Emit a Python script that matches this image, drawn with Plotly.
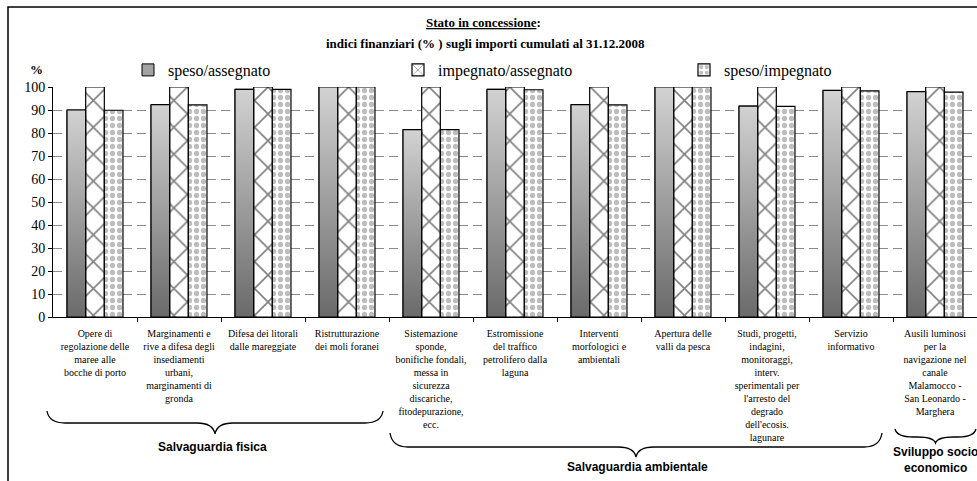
import plotly.graph_objects as go

# ---------------- data ----------------
categories = [
    "Opere di<br>regolazione delle<br>maree alle<br>bocche di porto",
    "Marginamenti e<br>rive a difesa degli<br>insediamenti<br>urbani,<br>marginamenti di<br>gronda",
    "Difesa dei litorali<br>dalle mareggiate",
    "Ristrutturazione<br>dei moli foranei",
    "Sistemazione<br>sponde,<br>bonifiche fondali,<br>messa in<br>sicurezza<br>discariche,<br>fitodepurazione,<br>ecc.",
    "Estromissione<br>del traffico<br>petrolifero dalla<br>laguna",
    "Interventi<br>morfologici e<br>ambientali",
    "Apertura delle<br>valli da pesca",
    "Studi, progetti,<br>indagini,<br>monitoraggi,<br>interv.<br>sperimentali per<br>l'arresto del<br>degrado<br>dell'ecosis.<br>lagunare",
    "Servizio<br>informativo",
    "Ausili luminosi<br>per la<br>navigazione nel<br>canale<br>Malamocco -<br>San Leonardo -<br>Marghera",
]
speso_assegnato = [90.0, 92.3, 99.0, 100.0, 81.5, 99.0, 92.3, 100.0, 91.7, 98.5, 98.0]
impegnato_assegnato = [100, 100, 100, 100, 100, 100, 100, 100, 100, 100, 100]
speso_impegnato = [89.9, 92.2, 99.0, 100.0, 81.5, 98.8, 92.2, 100.0, 91.6, 98.3, 97.8]
series_names = ["speso/assegnato", "impegnato/assegnato", "speso/impegnato"]
y_ticks = [0, 10, 20, 30, 40, 50, 60, 70, 80, 90, 100]
groups = ["Salvaguardia fisica", "Salvaguardia ambientale", "Sviluppo socio<br>economico"]

# ---------------- layout geometry ----------------
W, H = 977, 481
PL, PR, PT, PB = 53, 977, 87, 317


def px2x(px):
    return (px - PL) / (PR - PL)


def py2y(py):
    return (PB - py) / (PB - PT)


SERIF = "Liberation Serif, Times New Roman, serif"
SANS = "Liberation Sans, Arial, sans-serif"

xs = list(range(len(categories)))
bw = 0.222
offsets = [-0.333, -0.111, 0.111]

fig = go.Figure()

fig.add_trace(go.Bar(
    x=xs, y=speso_assegnato, name=series_names[0], width=bw, offset=offsets[0],
    marker=dict(color="#a3a3a3", line=dict(color="black", width=1)),
    legend="legend",
))
fig.add_trace(go.Bar(
    x=xs, y=impegnato_assegnato, name=series_names[1], width=bw, offset=offsets[1],
    marker=dict(color="white", line=dict(color="black", width=1.2),
                pattern=dict(shape="x", fgcolor="black", bgcolor="white", size=19, solidity=0.16)),
    legend="legend2",
))
fig.add_trace(go.Bar(
    x=xs, y=speso_impegnato, name=series_names[2], width=bw, offset=offsets[2],
    marker=dict(color="white", line=dict(color="black", width=1.2),
                pattern=dict(shape=".", fgcolor="#7c7c7c", bgcolor="white", size=7, solidity=0.45)),
    legend="legend3",
))

# gradient overlay for the first series (one polygon per bar, built from the data)
for i, v in zip(xs, speso_assegnato):
    x0 = i + offsets[0]
    x1 = x0 + bw
    fig.add_trace(go.Scatter(
        x=[x0, x0, x1, x1, x0], y=[0, v, v, 0, 0], mode="lines", fill="toself",
        line=dict(color="black", width=1.2),
        fillgradient=dict(type="vertical", colorscale=[[0, "#6a6a6a"], [1, "#d2d2d2"]]),
        showlegend=False, hoverinfo="skip",
    ))

shapes = []
# outer frame
shapes.append(dict(type="rect", xref="paper", yref="paper",
                   x0=px2x(8), x1=px2x(1010), y0=py2y(700), y1=py2y(7),
                   line=dict(color="black", width=1.5), fillcolor="rgba(0,0,0,0)"))


def brace(x0, x1, yend, ybody, ytip, r=18):
    xm = (x0 + x1) / 2
    pts = lambda x, y: f"{px2x(x):.5f},{py2y(y):.5f}"
    return (f"M {pts(x0, yend)} Q {pts(x0 + 2, ybody)} {pts(x0 + r, ybody)} "
            f"L {pts(xm - r, ybody)} Q {pts(xm - 2, ybody)} {pts(xm, ytip)} "
            f"Q {pts(xm + 2, ybody)} {pts(xm + r, ybody)} "
            f"L {pts(x1 - r, ybody)} Q {pts(x1 - 2, ybody)} {pts(x1, yend)}")


for (a, b, ye, yb, yt) in [(47, 383, 411, 423, 434), (390, 882, 433, 447, 457), (895, 976, 429, 437, 443)]:
    shapes.append(dict(type="path", xref="paper", yref="paper", path=brace(a, b, ye, yb, yt),
                       line=dict(color="black", width=1.3)))

annotations = [
    dict(text="<b><u>Stato in concessione</u>:</b>", x=px2x(483), y=py2y(22)),
    dict(text="<b>indici finanziari (% ) sugli importi cumulati al 31.12.2008</b>", x=px2x(485), y=py2y(43)),
    dict(text="<b>%</b>", x=px2x(36), y=py2y(69)),
]
for a in annotations:
    a.update(xref="paper", yref="paper", showarrow=False, xanchor="center", yanchor="middle",
             font=dict(family=SERIF, size=13, color="black"))

for txt, cx, cy in zip(groups, [212, 637, 935], [447, 467, 460]):
    annotations.append(dict(text=f"<b>{txt}</b>", x=px2x(cx), y=py2y(cy), xref="paper", yref="paper",
                            showarrow=False, xanchor="center", yanchor="middle",
                            font=dict(family=SANS, size=12, color="black")))

leg_common = dict(orientation="h", xanchor="left", yanchor="middle", y=py2y(70),
                  bgcolor="rgba(0,0,0,0)", font=dict(family=SERIF, size=16, color="black"),
                  borderwidth=0)

fig.update_layout(
    width=W, height=H,
    margin=dict(l=PL, r=W - PR, t=PT, b=H - PB, autoexpand=False),
    paper_bgcolor="white", plot_bgcolor="white",
    barmode="overlay",
    shapes=shapes, annotations=annotations,
    legend=dict(x=px2x(128), **leg_common),
    legend2=dict(x=px2x(398), **leg_common),
    legend3=dict(x=px2x(684), **leg_common),
    xaxis=dict(range=[-0.5, 10.5], tickmode="array", tickvals=xs, ticktext=categories,
               ticks="", showline=True, linecolor="black", linewidth=1, showgrid=False,
               zeroline=False, tickangle=0, automargin=False, ticklabelstandoff=7,
               tickfont=dict(family=SERIF, size=10, color="black"),
               minor=dict(tickmode="array", tickvals=[i + 0.5 for i in xs[:-1]], ticks="outside",
                          ticklen=4, tickcolor="black", showgrid=False)),
    yaxis=dict(range=[0, 100], tickmode="array", tickvals=y_ticks, ticks="outside", ticklen=4,
               tickcolor="black", showline=True, linecolor="black", linewidth=1,
               showgrid=True, gridcolor="#8a8a8a", griddash="9px,5px", gridwidth=1,
               zeroline=False, automargin=False,
               tickfont=dict(family=SERIF, size=14, color="black")),
)

fig.write_html("out.html", config={"displayModeBar": False},
               post_script="document.body.style.margin='0px';document.body.style.overflow='hidden';")
